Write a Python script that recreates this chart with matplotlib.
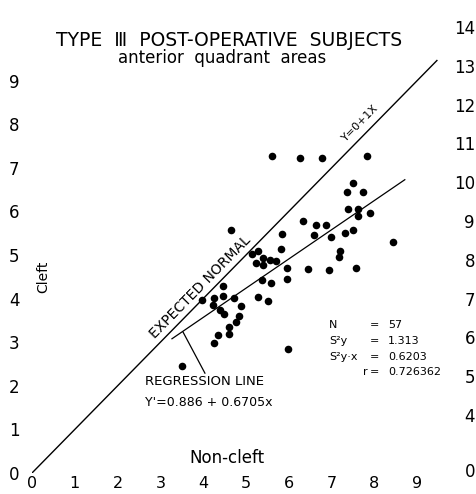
import numpy as np
import matplotlib
matplotlib.use("Agg")
import matplotlib.pyplot as plt

# values (Non-cleft, Cleft)
non_cleft = [5.60, 6.26, 6.78, 7.83, 7.49, 7.37, 7.73, 7.39, 7.62, 7.62,
             7.90, 6.34, 6.64, 6.86, 6.59, 6.98, 7.31, 7.49, 8.43, 4.64,
             5.83, 5.82, 7.20, 7.17, 5.13, 5.29, 5.24, 5.40, 5.40, 5.56,
             5.70, 5.96, 6.45, 6.95, 7.56, 5.37, 5.58, 5.96, 4.46, 5.27,
             5.51, 3.97, 4.26, 4.47, 4.72, 4.89, 4.24, 4.39, 4.49, 4.84,
             4.76, 4.61, 4.60, 4.34, 4.26, 3.50, 5.97]
cleft = [7.26, 7.23, 7.23, 7.26, 6.66, 6.44, 6.45, 6.06, 6.05, 5.90,
         5.96, 5.79, 5.68, 5.69, 5.46, 5.42, 5.50, 5.57, 5.29, 5.57,
         5.48, 5.13, 5.10, 4.95, 5.02, 5.08, 4.81, 4.94, 4.76, 4.89,
         4.87, 4.69, 4.67, 4.66, 4.69, 4.42, 4.35, 4.44, 4.29, 4.04,
         3.95, 3.96, 4.01, 4.05, 4.01, 3.83, 3.85, 3.74, 3.65, 3.59,
         3.47, 3.34, 3.18, 3.17, 2.98, 2.46, 2.84]

intercept = 0.886
slope = 0.6705
reg_x = [3.27, 8.71]
normal_x = [0.0, 9.46]

ticks = list(range(10))
stat_names = ["N", "S²y", "S²y·x", "r"]
stat_values = ["57", "1.313", "0.6203", "0.726362"]
right_labels = ["14", "13", "12", "11", "10", "9", "8", "7", "6", "5", "4", "0"]

W, H = 477, 494
fig = plt.figure(figsize=(W / 100, H / 100), dpi=100)
ax = fig.add_axes([32 / W, 21 / H, 410.9 / W, 418.6 / H])
ax.set_xlim(0, 9.6)
ax.set_ylim(0, 9.6)
for s in ax.spines.values():
    s.set_visible(False)

ax.set_xticks(ticks)
ax.set_yticks(ticks)
ax.set_xticklabels([str(t) for t in ticks], fontsize=11.5)
ax.set_yticklabels([str(t) for t in ticks], fontsize=12)
ax.tick_params(axis="x", length=0, pad=2.5)
ax.tick_params(axis="y", length=0, pad=9)

# lines
ax.plot(normal_x, normal_x, color="black", lw=1.0)
reg_y = [intercept + slope * x for x in reg_x]
ax.plot(reg_x, reg_y, color="black", lw=0.9)

ax.scatter(non_cleft, cleft, s=30, color="black", zorder=3, linewidths=0)

# text
ang = ax.transData.transform_angles(np.array([45.0]), np.array([[0.0, 0.0]]))[0]

ax.text(4.60, 9.93, "TYPE  Ⅲ  POST-OPERATIVE  SUBJECTS", ha="center", va="center",
        fontsize=13.5)
ax.text(4.44, 9.52, "anterior  quadrant  areas", ha="center", va="center", fontsize=12)
ax.text(0.26, 4.50, "Cleft", rotation=90, ha="center", va="center", fontsize=10)
ax.text(4.56, 0.34, "Non-cleft", ha="center", va="center", fontsize=12)

ax.text(3.93, 4.27, "EXPECTED NORMAL", rotation=ang, rotation_mode="anchor",
        ha="center", va="center", fontsize=10)
ax.text(7.66, 8.03, "Y=0+1X", rotation=ang, rotation_mode="anchor",
        ha="center", va="center", fontsize=8)

ax.plot([3.53, 4.04], [3.23, 2.29], color="black", lw=0.9)
ax.text(2.64, 2.09, "REGRESSION LINE", ha="left", va="center", fontsize=9.5)
ax.text(2.64, 1.61, "Y'=0.886 + 0.6705x", ha="left", va="center", fontsize=9)

row_y = [3.39, 3.03, 2.66, 2.32]
for i, (nm, val) in enumerate(zip(stat_names, stat_values)):
    if nm == "r":
        ax.text(7.83, row_y[i], nm, ha="right", va="center", fontsize=8)
    else:
        ax.text(6.94, row_y[i], nm, ha="left", va="center", fontsize=8)
    ax.text(8.0, row_y[i], "=", ha="center", va="center", fontsize=8)
    ax.text(8.32, row_y[i], val, ha="left", va="center", fontsize=8)

# neighbouring chart's axis along the right edge
for i, lab in enumerate(right_labels):
    ypx = 472 if lab == "0" else 29 + i * 38.8
    fig.text(475 / W, 1 - ypx / H, lab, ha="right", va="center", fontsize=12)

fig.savefig("out.png", dpi=100)
